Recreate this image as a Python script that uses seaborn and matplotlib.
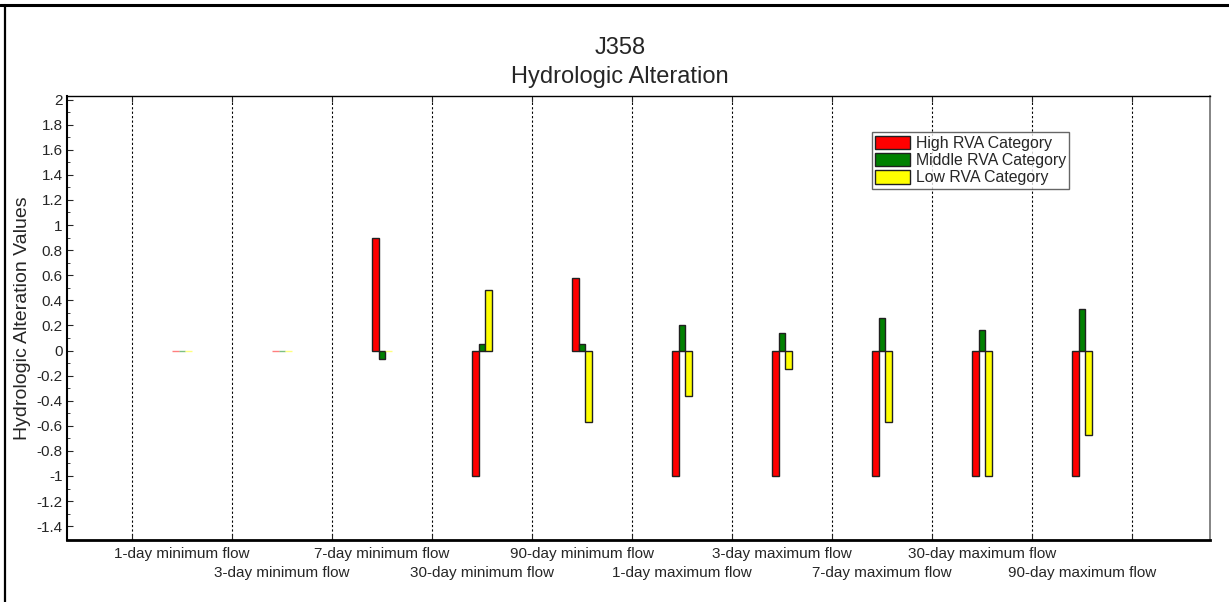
import numpy as np
import pandas as pd
import matplotlib
matplotlib.use("Agg")
import matplotlib.pyplot as plt
from matplotlib.lines import Line2D
import seaborn as sns

# Flow statistics (x categories)
categories = [
    "1-day minimum flow", "3-day minimum flow", "7-day minimum flow",
    "30-day minimum flow", "90-day minimum flow", "1-day maximum flow",
    "3-day maximum flow", "7-day maximum flow", "30-day maximum flow",
    "90-day maximum flow",
]
series_names = ["High RVA Category", "Middle RVA Category", "Low RVA Category"]

# Hydrologic alteration per RVA category
high_vals = [0.0, 0.0, 0.90, -1.0, 0.58, -1.0, -1.0, -1.0, -1.0, -1.0]
middle_vals = [0.0, 0.0, -0.07, 0.05, 0.05, 0.20, 0.14, 0.26, 0.16, 0.33]
low_vals = [0.0, 0.0, 0.0, 0.48, -0.57, -0.36, -0.15, -0.57, -1.0, -0.67]

y_ticks = [round(-1.4 + 0.2 * i, 1) for i in range(18)]

palette = {"High RVA Category": "#FF0000",
           "Middle RVA Category": "#008000",
           "Low RVA Category": "#FFFF00"}

df = pd.DataFrame({
    "flow": categories * 3,
    "series": [s for s in series_names for _ in categories],
    "value": high_vals + middle_vals + low_vals,
})

sns.set_style("white")
plt.rcParams["font.family"] = ["Liberation Sans", "DejaVu Sans"]

fig = plt.figure(figsize=(12.29, 6.02), dpi=100)
ax = fig.add_axes([67 / 1229, 1 - 540 / 602, (1210 - 67) / 1229, (540 - 95.5) / 602])

sns.barplot(data=df, x="flow", y="value", hue="series", order=categories,
            hue_order=series_names, palette=palette, width=0.2, dodge=True,
            edgecolor="#202020", linewidth=1.0, saturation=1, ax=ax,
            errorbar=None)

# Zero-height bars: show only a faint coloured sliver
for p in ax.patches:
    if abs(p.get_height()) < 1e-9:
        fc = p.get_facecolor()
        p.set_edgecolor((fc[0], fc[1], fc[2], 0.5))
        p.set_linewidth(1.0)

n = len(categories)
ax.set_xlim(-1.15, 10.28)
ax.set_ylim(-1.51, 2.032)

# Category boundaries as dashed separators
bounds = np.arange(n + 1) - 0.5
for b in bounds:
    ax.axvline(b, color="black", linestyle=(0, (2, 2)), linewidth=0.8, zorder=0)

ax.set_xticks(bounds)
ax.set_xticklabels([])
ax.set_xticks(np.arange(n), minor=True)
ax.set_xticklabels(categories, minor=True, fontsize=11)
ax.tick_params(axis="x", which="major", direction="in", length=4, top=True,
               bottom=True, width=0.8)
ax.tick_params(axis="x", which="minor", length=0, pad=5)
# Stagger every second category label onto a lower row
for i, t in enumerate(ax.xaxis.get_minor_ticks()):
    if i % 2 == 1:
        t.set_pad(18.5)

ax.set_yticks(y_ticks)
ax.set_yticklabels([f"{t:g}" for t in y_ticks], fontsize=11)
ax.set_yticks(np.arange(-1.4, 2.01, 0.1), minor=True)
ax.tick_params(axis="y", which="major", direction="in", length=4, left=True,
               width=0.8, pad=3)
ax.tick_params(axis="y", which="minor", direction="in", length=2, left=True,
               width=0.6)

ax.set_xlabel("")
ax.set_ylabel("Hydrologic Alteration Values", fontsize=14, labelpad=4)

for side, lw, col in [("bottom", 2.0, "black"), ("left", 1.5, "black"),
                      ("top", 1.0, "black"), ("right", 1.2, "#707070")]:
    ax.spines[side].set_visible(True)
    ax.spines[side].set_linewidth(lw)
    ax.spines[side].set_color(col)

fig.text(620 / 1229, 1 - 48 / 602, "J358", ha="center", va="center", fontsize=17)
fig.text(620 / 1229, 1 - 77 / 602, "Hydrologic Alteration", ha="center",
         va="center", fontsize=17)

leg = ax.legend(loc="upper left", bbox_to_anchor=(0.7045, 0.917), fontsize=11.4,
                frameon=True, fancybox=False, edgecolor="#404040",
                handlelength=2.2, handleheight=0.9, handletextpad=0.35,
                borderpad=0.2, labelspacing=0.15, borderaxespad=0)
leg.get_frame().set_linewidth(1.0)
for h in leg.legend_handles:
    h.set_edgecolor("#202020")
    h.set_linewidth(1.0)

# Outer frame (top and left edges)
fig.add_artist(Line2D([0.0, 1.0], [1 - 5 / 602, 1 - 5 / 602], color="black",
                      linewidth=2.2, transform=fig.transFigure))
fig.add_artist(Line2D([4.5 / 1229, 4.5 / 1229], [0.0, 1 - 5 / 602], color="black",
                      linewidth=1.6, transform=fig.transFigure))

fig.savefig("out.png", dpi=100)
